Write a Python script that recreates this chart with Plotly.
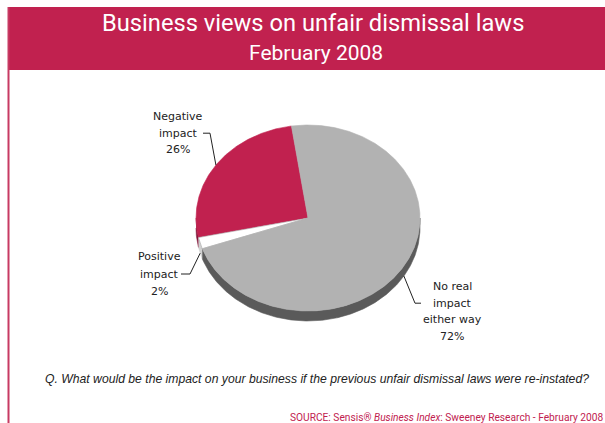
import numpy as np
import plotly.graph_objects as go

# Survey results
categories = ["Negative impact", "Positive impact", "No real impact either way"]
shares = [26, 2, 72]
label_lines = [["Negative", "impact", "26%"],
               ["Positive", "impact", "2%"],
               ["No real", "impact", "either way", "72%"]]

title_main = "Business views on unfair dismissal laws"
title_sub = "February 2008"
question = "Q. What would be the impact on your business if the previous unfair dismissal laws were re-instated?"
source = "SOURCE: Sensis\u00ae <i>Business Index</i>: Sweeney Research - February 2008"

CRIMSON = "#C1214F"
top_colors = [CRIMSON, "#FFFFFF", "#B2B2B2"]
side_colors = ["#85173A", "#D0D0D0", "#5A5A5A"]

W, H = 605, 423
# pie geometry (pixel space)
cx, cy, rx, ry, depth = 308, 218, 112, 93, 10
start_angle = 98.5  # degrees, counter-clockwise from +x

# label placement: (text centre x, first line y, line gap, elbow x, text-end x)
label_pos = [
    dict(x=178, y=116.5, gap=16.7, tx=203, ex=210),
    dict(x=159, y=256.5, gap=17.5, tx=181, ex=190),
    dict(x=452, y=286.5, gap=16.7, tx=421, ex=415),
]


def arc(a0, a1):
    n = max(int(abs(a1 - a0)) * 2, 2)
    t = np.radians(np.linspace(a0, a1, n))
    return cx + rx * np.cos(t), cy - ry * np.sin(t)


fig = go.Figure()

# slice angle ranges
angles = []
a = start_angle
for s in shares:
    b = a + 360.0 * s / sum(shares)
    angles.append((a, b))
    a = b

# side walls (front half only)
for (a0, a1), col in zip(angles, side_colors):
    for k in (0, 360):
        lo, hi = max(a0, 180 + k), min(a1, 360 + k)
        if lo < hi:
            xs, ys = arc(lo, hi)
            px = np.concatenate([xs, xs[::-1]])
            py = np.concatenate([ys, ys[::-1] + depth])
            fig.add_trace(go.Scatter(x=px, y=py, fill="toself", fillcolor=col,
                                     mode="lines", line=dict(width=0.6, color=col),
                                     hoverinfo="skip", showlegend=False))

# top faces
for i, ((a0, a1), col) in enumerate(zip(angles, top_colors)):
    xs, ys = arc(a0, a1)
    px = np.concatenate([[cx], xs, [cx]])
    py = np.concatenate([[cy], ys, [cy]])
    lc = "#A8A8A8" if col == "#FFFFFF" else col
    fig.add_trace(go.Scatter(x=px, y=py, fill="toself", fillcolor=col,
                             mode="lines", line=dict(width=0.6, color=lc),
                             hoverinfo="skip", showlegend=False))

# labels and leader lines
annotations = []
for (a0, a1), lines, pos in zip(angles, label_lines, label_pos):
    mid = np.radians((a0 + a1) / 2)
    ex_pt = cx + rx * np.cos(mid)
    ey_pt = cy - ry * np.sin(mid) + (depth if np.sin(mid) < 0 else 0)
    ly = pos["y"] + pos["gap"]
    fig.add_trace(go.Scatter(x=[pos["tx"], pos["ex"], ex_pt], y=[ly, ly, ey_pt],
                             mode="lines", line=dict(color="#222222", width=1),
                             hoverinfo="skip", showlegend=False))
    for j, t in enumerate(lines):
        annotations.append(dict(x=pos["x"], y=pos["y"] + j * pos["gap"], text=t,
                                xref="x", yref="y", showarrow=False,
                                xanchor="center", yanchor="middle",
                                font=dict(family="DejaVu Sans", size=11, color="#222222")))

annotations += [
    dict(x=313, y=23, text=title_main, xref="x", yref="y", showarrow=False,
         xanchor="center", yanchor="middle",
         font=dict(family="Roboto", size=23.7, color="white")),
    dict(x=316, y=53, text=title_sub, xref="x", yref="y", showarrow=False,
         xanchor="center", yanchor="middle",
         font=dict(family="Roboto", size=21, color="white")),
    dict(x=43, y=379, text="<i>" + question + "</i>", xref="x", yref="y", showarrow=False,
         xanchor="left", yanchor="middle",
         font=dict(family="Liberation Sans", size=12.2, color="#222222")),
    dict(x=288, y=417, text=source, xref="x", yref="y", showarrow=False,
         xanchor="left", yanchor="middle",
         font=dict(family="Roboto", size=10.2, color=CRIMSON)),
]

shapes = [
    dict(type="rect", xref="x", yref="y", x0=8, x1=W, y0=7, y1=70,
         fillcolor=CRIMSON, line=dict(width=0), layer="below"),
    dict(type="line", xref="x", yref="y", x0=8.5, x1=8.5, y0=7, y1=H,
         line=dict(color="#C73A63", width=2)),
]

fig.update_layout(
    width=W, height=H,
    margin=dict(l=0, r=0, t=0, b=0),
    paper_bgcolor="white", plot_bgcolor="white",
    xaxis=dict(range=[0, W], visible=False, fixedrange=True),
    yaxis=dict(range=[H, 0], visible=False, fixedrange=True),
    annotations=annotations, shapes=shapes, showlegend=False,
)

fig.write_html("out.html", config={"displayModeBar": False})
